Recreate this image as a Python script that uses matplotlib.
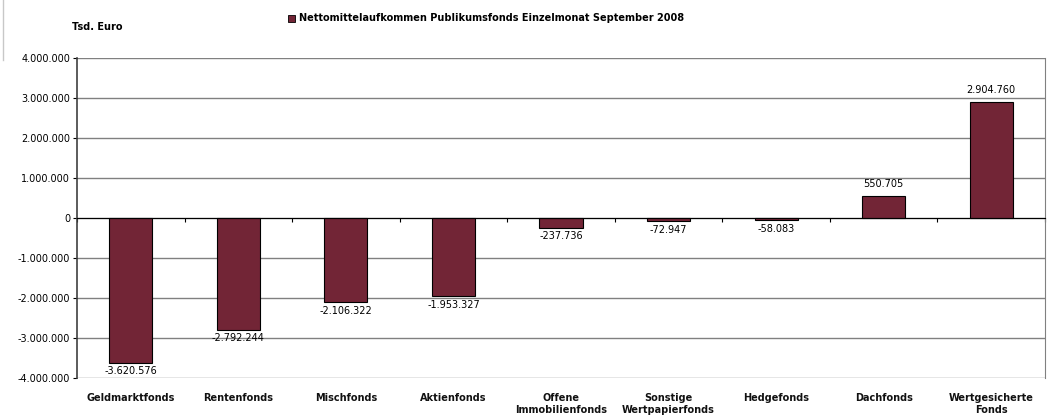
import numpy as np
import matplotlib
matplotlib.use("Agg")
import matplotlib.pyplot as plt
from matplotlib.patches import Rectangle
from matplotlib.lines import Line2D

categories = ["Geldmarktfonds", "Rentenfonds", "Mischfonds", "Aktienfonds",
              "Offene\nImmobilienfonds", "Sonstige\nWertpapierfonds",
              "Hedgefonds", "Dachfonds", "Wertgesicherte\nFonds"]
values = [-3620576, -2792244, -2106322, -1953327, -237736,
          -72947, -58083, 550705, 2904760]
yticks = [-4000000, -3000000, -2000000, -1000000, 0,
          1000000, 2000000, 3000000, 4000000]

bar_color = "#722536"
legend_text = "Nettomittelaufkommen Publikumsfonds Einzelmonat September 2008"


def de_fmt(v):
    # German thousands separator
    return f"{v:,.0f}".replace(",", ".")


fig = plt.figure(figsize=(10.49, 4.15), dpi=100)
ax = fig.add_axes([77 / 1049, 1 - 378 / 415, (1045 - 77) / 1049, 320 / 415])

x = np.arange(len(categories))
ax.bar(x, values, width=0.4, color=bar_color, edgecolor="black",
       linewidth=0.8, zorder=3)

ax.set_xlim(-0.5, len(categories) - 0.5)
ax.set_ylim(-4000000, 4000000)

# gridlines
for t in yticks:
    ax.axhline(t, color="#808080", linewidth=1.0, zorder=1)

ax.set_yticks(yticks)
ax.set_yticklabels([de_fmt(t) for t in yticks], fontsize=7)
ax.tick_params(axis="y", length=3, width=0.8, color="black", pad=2)

# x axis at zero with ticks at category boundaries
ax.spines["bottom"].set_position(("data", 0))
ax.spines["bottom"].set_color("black")
ax.spines["bottom"].set_zorder(4)
ax.set_xticks(np.arange(-0.5, len(categories), 1.0))
ax.set_xticklabels([])
ax.tick_params(axis="x", direction="out", length=3, width=0.8, color="black")
ax.spines["top"].set_visible(False)
ax.spines["left"].set_color("#404040")
ax.spines["left"].set_linewidth(1.2)
ax.spines["right"].set_color("#808080")

# category labels below the plot
for i, c in enumerate(categories):
    ax.text(i, -0.046, c, transform=ax.get_xaxis_transform(), ha="center",
            va="top", fontsize=7, fontweight="semibold", color="#111111",
            linespacing=1.3)

# value labels
for i, v in enumerate(values):
    if v < 0:
        ax.text(i, v - 90000, de_fmt(v), ha="center", va="top", fontsize=7,
                zorder=5)
    else:
        ax.text(i, v + 180000, de_fmt(v), ha="center", va="bottom",
                fontsize=7, zorder=5)

# unit and legend
fig.text(72 / 1049, 1 - 27 / 415, "Tsd. Euro", fontsize=7, fontweight="bold",
         va="center", ha="left")
fig.patches.append(Rectangle((288 / 1049, 1 - 22 / 415), 7 / 1049, 7 / 415,
                             transform=fig.transFigure, facecolor=bar_color,
                             edgecolor="black", linewidth=0.6))
fig.text(299 / 1049, 1 - 18 / 415, legend_text, fontsize=7,
         fontweight="bold", va="center", ha="left")

# thin grey edge at the top left, as in the source screenshot
fig.lines.append(Line2D([3 / 1049, 3 / 1049], [1, 1 - 60 / 415],
                        transform=fig.transFigure, color="#c8c8c8",
                        linewidth=1.0))

fig.savefig("out.png", dpi=100)
